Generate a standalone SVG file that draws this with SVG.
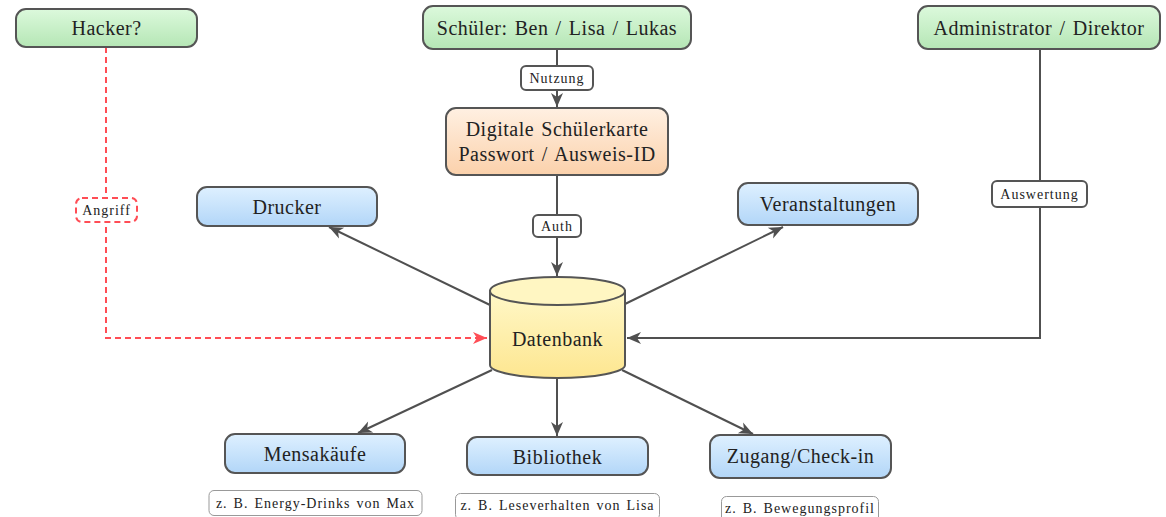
<svg xmlns="http://www.w3.org/2000/svg" width="1166" height="517" viewBox="0 0 1166 517" font-family="'Liberation Serif', 'Times New Roman', Times, serif">
  <style>
    .box { stroke: #555; stroke-width: 2; }
    .green { fill: url(#gGreen); }
    .blue { fill: url(#gBlue); }
    .orange { fill: url(#gOrange); }
    .main { font-size: 20px; fill: #222; letter-spacing: 0.5px; word-spacing: 1.7px; text-anchor: middle; dominant-baseline: central; }
    .small { font-size: 14px; fill: #222; letter-spacing: 1px; word-spacing: 1.5px; text-anchor: middle; dominant-baseline: central; }
    .tag { fill: #fff; stroke: #555; stroke-width: 2; }
    .note { fill: #fff; stroke: #999; stroke-width: 1; }
    .edge { fill: none; stroke: #505050; stroke-width: 2; }
    .attack { fill: none; stroke: #ff4d55; stroke-width: 2; stroke-dasharray: 6 4; }
  </style>
  <defs>
    <linearGradient id="gGreen" x1="0" y1="0" x2="0" y2="1">
      <stop offset="0" stop-color="#dcf9dc"/>
      <stop offset="1" stop-color="#b5e6b5"/>
    </linearGradient>
    <linearGradient id="gBlue" x1="0" y1="0" x2="0" y2="1">
      <stop offset="0" stop-color="#def0ff"/>
      <stop offset="1" stop-color="#b2d6f8"/>
    </linearGradient>
    <linearGradient id="gOrange" x1="0" y1="0" x2="0" y2="1">
      <stop offset="0" stop-color="#fff0e2"/>
      <stop offset="1" stop-color="#fbd1ab"/>
    </linearGradient>
    <linearGradient id="gYellow" x1="0" y1="0" x2="0" y2="1">
      <stop offset="0" stop-color="#fff8c8"/>
      <stop offset="1" stop-color="#fde690"/>
    </linearGradient>
    <marker id="arrow" viewBox="-1 -7 16 14" refX="14" refY="0" markerWidth="16" markerHeight="14" markerUnits="userSpaceOnUse" orient="auto">
      <path d="M0,-6 L14,0 L0,6 L4,0 Z" fill="#505050"/>
    </marker>
    <marker id="arrowRed" viewBox="-1 -7 16 14" refX="14" refY="0" markerWidth="16" markerHeight="14" markerUnits="userSpaceOnUse" orient="auto">
      <path d="M0,-6 L14,0 L0,6 L4,0 Z" fill="#ff4d55"/>
    </marker>
  </defs>

  <!-- connectors -->
  <g id="connectors">
    <path class="edge" d="M557,49 V107" marker-end="url(#arrow)"/>
    <path class="edge" d="M557,175 V276" marker-end="url(#arrow)"/>
    <path class="edge" d="M490,305 L329,227" marker-end="url(#arrow)"/>
    <path class="edge" d="M625,304 L783,227" marker-end="url(#arrow)"/>
    <path class="edge" d="M492,370 L358,433" marker-end="url(#arrow)"/>
    <path class="edge" d="M557,378 V436" marker-end="url(#arrow)"/>
    <path class="edge" d="M622,370 L753,434" marker-end="url(#arrow)"/>
    <path class="edge" d="M1040,49 V338 H627" marker-end="url(#arrow)"/>
    <path class="attack" d="M106,47 V338 H487" marker-end="url(#arrowRed)"/>

    <g id="label-nutzung">
      <rect class="tag" x="521" y="66" width="72" height="24" rx="5"/>
      <text class="small" x="557" y="78">Nutzung</text>
    </g>
    <g id="label-auth">
      <rect class="tag" x="533" y="215" width="48" height="22" rx="5"/>
      <text class="small" x="557" y="226">Auth</text>
    </g>
    <g id="label-auswertung">
      <rect class="tag" x="992" y="181" width="95" height="26" rx="5"/>
      <text class="small" x="1039.5" y="194">Auswertung</text>
    </g>
    <g id="label-angriff">
      <rect x="76" y="198" width="61" height="24" rx="6" fill="#fff" stroke="#ff4d55" stroke-width="2" stroke-dasharray="6 4"/>
      <text class="small" x="106.5" y="210">Angriff</text>
    </g>
  </g>

  <!-- actors -->
  <g id="hacker">
    <rect class="box green" x="16" y="9" width="181" height="38" rx="10"/>
    <text class="main" x="106.5" y="28">Hacker?</text>
  </g>
  <g id="schueler">
    <rect class="box green" x="423" y="6" width="268" height="43" rx="10"/>
    <text class="main" x="557" y="27.5">Schüler: Ben / Lisa / Lukas</text>
  </g>
  <g id="admin">
    <rect class="box green" x="918" y="6" width="242" height="43" rx="10"/>
    <text class="main" x="1039" y="27.5">Administrator / Direktor</text>
  </g>

  <!-- card -->
  <g id="karte">
    <rect class="box orange" x="446" y="108" width="222" height="67" rx="10"/>
    <text class="main" x="557" y="129">Digitale Schülerkarte</text>
    <text class="main" x="557" y="154">Passwort / Ausweis-ID</text>
  </g>

  <!-- database -->
  <g id="datenbank">
    <path d="M490,291 V365 A67.5,13 0 0 0 625,365 V291 Z" fill="url(#gYellow)" stroke="#555" stroke-width="2"/>
    <ellipse cx="557.5" cy="291" rx="67.5" ry="14" fill="#fff6c2" stroke="#555" stroke-width="2"/>
    <text class="main" x="557.5" y="339">Datenbank</text>
  </g>

  <!-- services -->
  <g id="drucker">
    <rect class="box blue" x="197" y="187" width="180" height="39" rx="10"/>
    <text class="main" x="287" y="206.5">Drucker</text>
  </g>
  <g id="veranstaltungen">
    <rect class="box blue" x="738" y="183" width="180" height="42" rx="10"/>
    <text class="main" x="828" y="204">Veranstaltungen</text>
  </g>
  <g id="mensa">
    <rect class="box blue" x="225" y="434" width="180" height="39" rx="10"/>
    <text class="main" x="315" y="454">Mensakäufe</text>
  </g>
  <g id="bibliothek">
    <rect class="box blue" x="467" y="437" width="181" height="38" rx="10"/>
    <text class="main" x="557.5" y="456.5">Bibliothek</text>
  </g>
  <g id="zugang">
    <rect class="box blue" x="710" y="435" width="181" height="43" rx="10"/>
    <text class="main" x="800.5" y="456">Zugang/Check-in</text>
  </g>

  <!-- examples -->
  <g id="note-mensa">
    <rect class="note" x="209" y="490.5" width="213" height="25" rx="5"/>
    <text class="small" x="315.5" y="503">z. B. Energy-Drinks von Max</text>
  </g>
  <g id="note-bibliothek">
    <rect class="note" x="455.5" y="493.5" width="204" height="26" rx="5"/>
    <text class="small" x="557.5" y="505.5">z. B. Leseverhalten von Lisa</text>
  </g>
  <g id="note-zugang">
    <rect class="note" x="721.5" y="496.5" width="157" height="26" rx="5"/>
    <text class="small" x="800" y="508">z. B. Bewegungsprofil</text>
  </g>
</svg>
